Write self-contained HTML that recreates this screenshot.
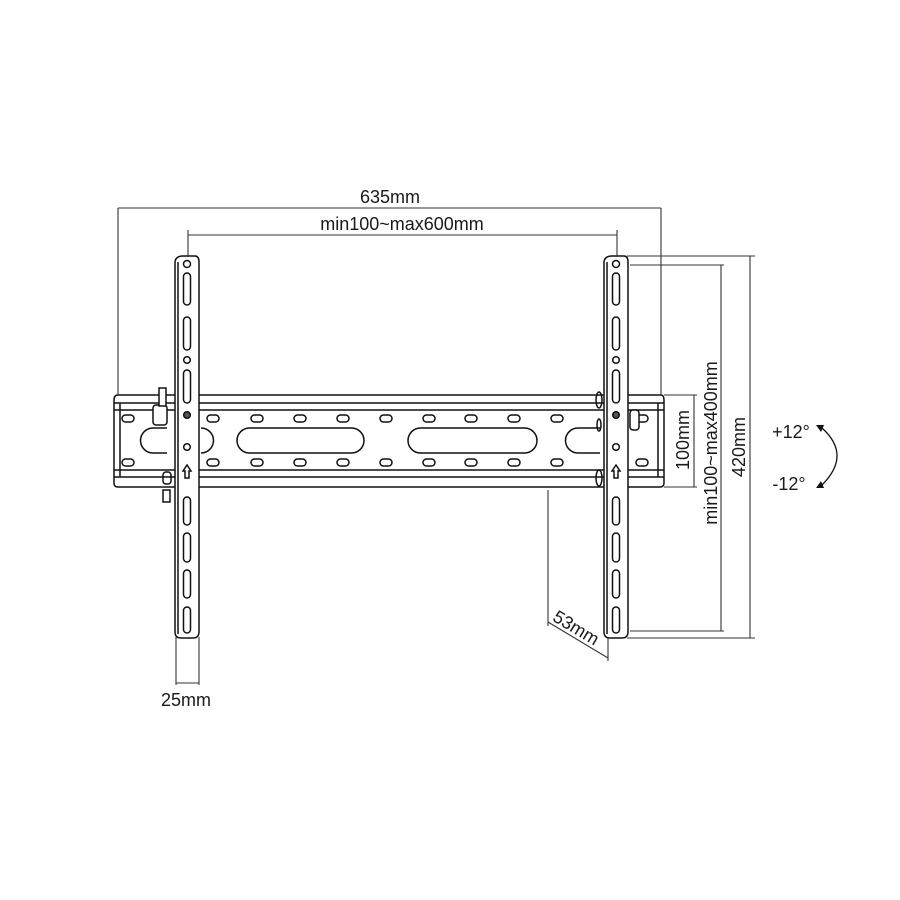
<!DOCTYPE html>
<html><head><meta charset="utf-8"><style>
html,body{margin:0;padding:0;background:#fff;}
svg{display:block;}
text{font-family:"Liberation Sans",sans-serif;fill:#1a1a1a;}
</style></head><body>
<svg width="900" height="900" viewBox="0 0 900 900" xmlns="http://www.w3.org/2000/svg">
<defs>
<g id="br" fill="none" stroke="#111" stroke-width="1.5">
  <path d="M-12,263 Q-12,256 -4,256 L8,256 Q12,256 12,262 L12,632 Q12,638 6,638 L-6,638 Q-12,638 -12,632 Z" fill="#fff"/>
  <line x1="-9" y1="262" x2="-9" y2="634"/>
  <circle cx="0" cy="264" r="3.5"/>
  <rect x="-3.5" y="273" width="7" height="32" rx="3.5"/>
  <rect x="-3.5" y="317" width="7" height="33" rx="3.5"/>
  <circle cx="0" cy="360" r="3.3"/>
  <rect x="-3.5" y="370" width="7" height="33" rx="3.5"/>
  <circle cx="0" cy="415" r="3.3" fill="#555"/>
  <circle cx="0" cy="447" r="3.3"/>
  <path d="M0,465 L-4,471 L-2,471 L-2,478 L2,478 L2,471 L4,471 Z"/>
  <rect x="-3.5" y="497" width="7" height="28" rx="3.5"/>
  <rect x="-3.5" y="533" width="7" height="29" rx="3.5"/>
  <rect x="-3.5" y="570" width="7" height="28" rx="3.5"/>
  <rect x="-3.5" y="607" width="7" height="26" rx="3.5"/>
</g>
</defs>
<g fill="none" stroke="#111" stroke-width="1.5">
  <path d="M118,395 L661,395 Q664,395 664,400 L664,483 Q664,487 660,487 L118,487 Q114,487 114,483 L114,400 Q114,395 118,395 Z"/>
  <line x1="114" y1="403" x2="664" y2="403"/>
  <line x1="114" y1="410" x2="664" y2="410"/>
  <line x1="114" y1="470" x2="664" y2="470"/>
  <line x1="114" y1="477" x2="664" y2="477"/>
  <line x1="120" y1="403" x2="120" y2="477"/>
  <line x1="658" y1="403" x2="658" y2="477"/>
  <g>
    <rect x="122" y="415" width="12" height="7" rx="3.5"/>
    <rect x="207" y="415" width="12" height="7" rx="3.5"/>
    <rect x="251" y="415" width="12" height="7" rx="3.5"/>
    <rect x="294" y="415" width="12" height="7" rx="3.5"/>
    <rect x="337" y="415" width="12" height="7" rx="3.5"/>
    <rect x="380" y="415" width="12" height="7" rx="3.5"/>
    <rect x="423" y="415" width="12" height="7" rx="3.5"/>
    <rect x="465" y="415" width="12" height="7" rx="3.5"/>
    <rect x="508" y="415" width="12" height="7" rx="3.5"/>
    <rect x="551" y="415" width="12" height="7" rx="3.5"/>
    <rect x="636" y="415" width="12" height="7" rx="3.5"/>
  </g>
  <g transform="translate(0,44)">
    <rect x="122" y="415" width="12" height="7" rx="3.5"/>
    <rect x="207" y="415" width="12" height="7" rx="3.5"/>
    <rect x="251" y="415" width="12" height="7" rx="3.5"/>
    <rect x="294" y="415" width="12" height="7" rx="3.5"/>
    <rect x="337" y="415" width="12" height="7" rx="3.5"/>
    <rect x="380" y="415" width="12" height="7" rx="3.5"/>
    <rect x="423" y="415" width="12" height="7" rx="3.5"/>
    <rect x="465" y="415" width="12" height="7" rx="3.5"/>
    <rect x="508" y="415" width="12" height="7" rx="3.5"/>
    <rect x="551" y="415" width="12" height="7" rx="3.5"/>
    <rect x="636" y="415" width="12" height="7" rx="3.5"/>
  </g>
  <rect x="237" y="428" width="127" height="25" rx="12.5"/>
  <rect x="408" y="428" width="129" height="25" rx="12.5"/>
  <path d="M167,428 L153,428 A12.5,12.5 0 0 0 153,453 L167,453"/>
  <path d="M201,428 A12.5,12.5 0 0 1 201,453"/>
  <path d="M600,428 L578,428 A12.5,12.5 0 0 0 578,453 L600,453"/>
  <rect x="153" y="405" width="14" height="20" rx="3" fill="#fff"/>
  <rect x="159" y="388" width="7" height="18" fill="#fff"/>
  <rect x="163" y="472" width="8" height="12" rx="3"/>
  <rect x="163" y="490" width="7" height="12"/>
  <rect x="630" y="410" width="9" height="20" rx="3" fill="#fff"/>
  <ellipse cx="599" cy="400" rx="3" ry="8"/>
  <ellipse cx="599" cy="478" rx="3" ry="8"/>
  <ellipse cx="599" cy="425" rx="2" ry="6"/>
</g>
<use href="#br" x="187"/>
<use href="#br" x="616"/>
<g fill="none" stroke="#333" stroke-width="1.1">
  <line x1="118" y1="208" x2="661" y2="208"/>
  <line x1="118" y1="208" x2="118" y2="395"/>
  <line x1="661" y1="208" x2="661" y2="395"/>
  <line x1="188" y1="235" x2="617" y2="235"/>
  <line x1="188" y1="230" x2="188" y2="257"/>
  <line x1="617" y1="230" x2="617" y2="257"/>
  <line x1="627" y1="256" x2="755" y2="256"/>
  <line x1="627" y1="638" x2="755" y2="638"/>
  <line x1="750" y1="256" x2="750" y2="638"/>
  <line x1="630" y1="265" x2="724" y2="265"/>
  <line x1="630" y1="631" x2="724" y2="631"/>
  <line x1="721" y1="265" x2="721" y2="631"/>
  <line x1="664" y1="395" x2="697" y2="395"/>
  <line x1="664" y1="487" x2="697" y2="487"/>
  <line x1="694" y1="395" x2="694" y2="487"/>
  <line x1="548" y1="490" x2="548" y2="626"/>
  <line x1="548" y1="622" x2="608" y2="658"/>
  <line x1="608" y1="638" x2="608" y2="661"/>
  <line x1="176" y1="637" x2="176" y2="685"/>
  <line x1="199" y1="637" x2="199" y2="685"/>
  <line x1="176" y1="683" x2="199" y2="683"/>
  <path d="M822,428 Q852,455 822,485" stroke="#111" stroke-width="1.3"/>
</g>
<path d="M816,425 L824,425 L821,432 Z" fill="#111"/>
<path d="M816,488 L824,488 L821,481 Z" fill="#111"/>
<g font-size="18">
  <text x="390" y="203" text-anchor="middle">635mm</text>
  <text x="402" y="230" text-anchor="middle">min100~max600mm</text>
  <text x="186" y="706" text-anchor="middle">25mm</text>
  <text x="791" y="438" text-anchor="middle">+12°</text>
  <text x="789" y="490" text-anchor="middle">-12°</text>
  <text transform="translate(689,440) rotate(-90)" text-anchor="middle">100mm</text>
  <text transform="translate(717,443) rotate(-90)" text-anchor="middle">min100~max400mm</text>
  <text transform="translate(745,447) rotate(-90)" text-anchor="middle">420mm</text>
  <text transform="translate(573,633) rotate(31)" text-anchor="middle">53mm</text>
</g>
</svg>
</body></html>
